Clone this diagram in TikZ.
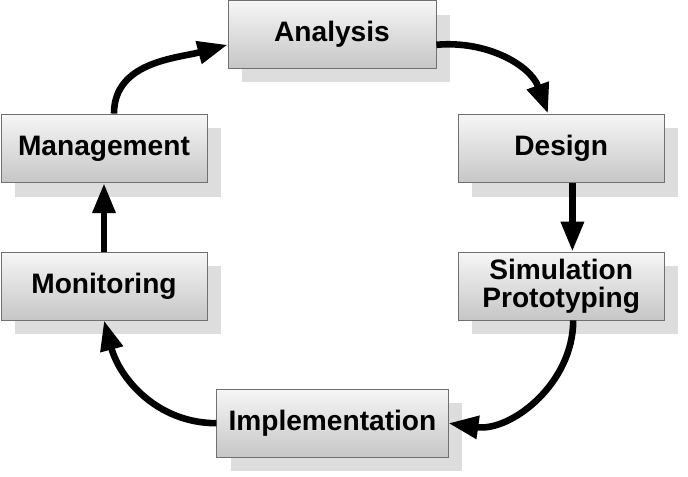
\documentclass[tikz,border=0pt]{standalone}
\usepackage{fontspec}
\setmainfont{Liberation Sans}
\usetikzlibrary{arrows.meta,shadows}

\definecolor{boxline}{HTML}{707070}
\definecolor{boxtop}{HTML}{F6F6F6}
\definecolor{boxbottom}{HTML}{C6C6C6}
\definecolor{boxshadow}{HTML}{DDDDDD}

\begin{document}
\begin{tikzpicture}[
    stage/.style={rectangle, draw=boxline, line width=0.6pt, top color=boxtop, bottom color=boxbottom,
        minimum width=5.15cm, minimum height=1.72cm, inner sep=0pt, align=center,
        font=\fontsize{20}{20}\selectfont\bfseries,
        drop shadow={shadow xshift=0.35cm, shadow yshift=-0.35cm, fill=boxshadow, opacity=1}},
    flow/.style={-{Triangle[length=0.75cm, width=0.55cm]}, line width=0.165cm, black}
]
    \useasboundingbox (0, 0) rectangle (17.2, -11.925);

    \node[stage, minimum width=5.2cm, minimum height=1.68cm] (analysis) at (8.3, -0.86) {Analysis};
    \node[stage] (design) at (14.03, -3.71) {Design};
    \node[stage, minimum height=1.7cm] (simulation) at (14.03, -7.15) {Simulation\\Prototyping};
    \node[stage, minimum width=5.78cm, minimum height=1.7cm] (implementation) at (8.31, -10.58) {Implementation};
    \node[stage, minimum height=1.7cm] (monitoring) at (2.6, -7.15) {Monitoring};
    \node[stage] (management) at (2.6, -3.71) {Management};

    \draw[flow] ([xshift=0.25cm]management.north) to[out=90, in=195] ([yshift=-0.26cm]analysis.west);
    \draw[flow] ([yshift=-0.26cm]analysis.east) to[out=5, in=110] ([xshift=-0.33cm]design.north);
    \draw[flow] ([xshift=0.28cm]design.south) -- ([xshift=0.28cm]simulation.north);
    \draw[flow] ([xshift=0.3cm]simulation.south) to[out=-90, in=-8] (implementation.east);
    \draw[flow] (implementation.west) to[out=180, in=-75] (monitoring.south);
    \draw[flow] (monitoring.north) -- (management.south);
\end{tikzpicture}
\end{document}
